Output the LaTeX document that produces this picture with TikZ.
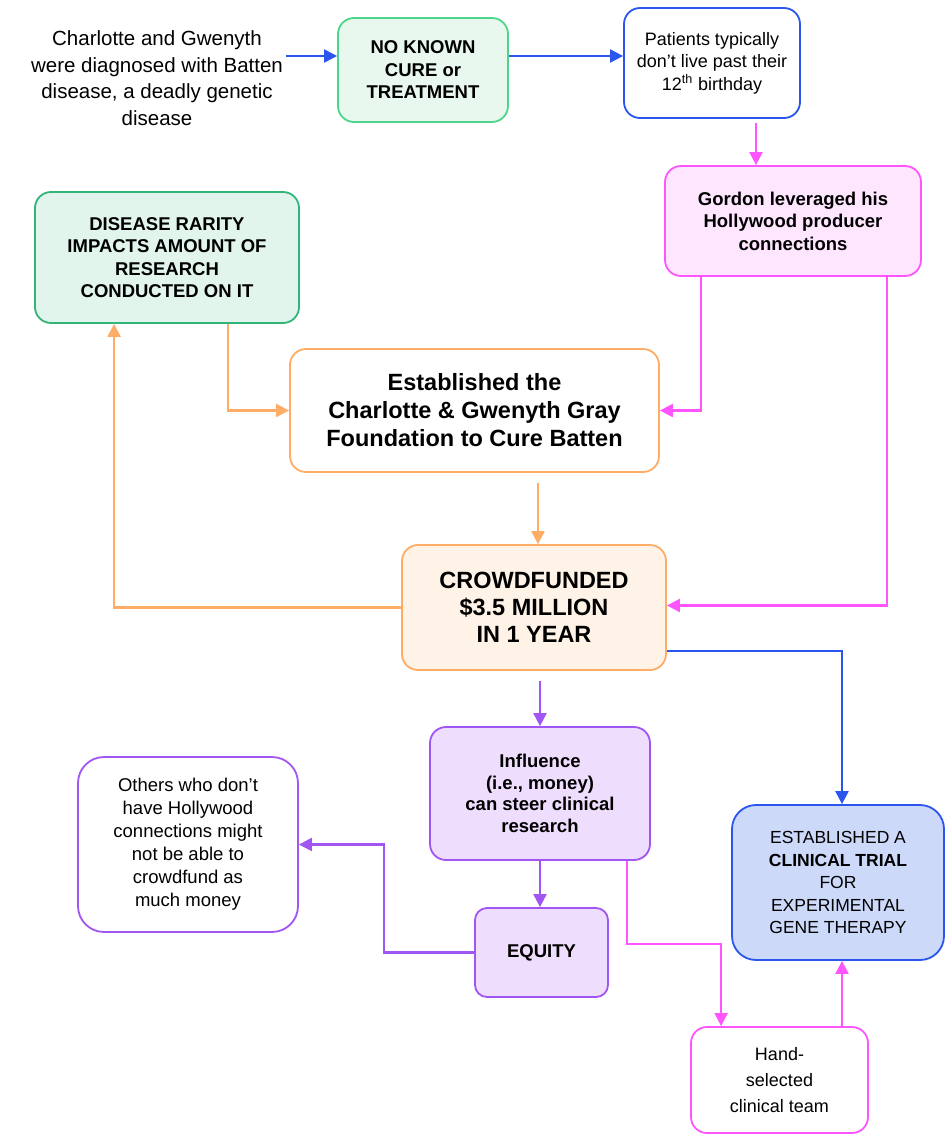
\documentclass[tikz,border=0pt]{standalone}
\usepackage{fontspec}
\setmainfont{Liberation Sans}
\usetikzlibrary{arrows.meta}

\definecolor{lineblue}{HTML}{2A55EE}
\definecolor{linepink}{HTML}{FF55FF}
\definecolor{lineorange}{HTML}{FFAD66}
\definecolor{linepurple}{HTML}{A155F2}
\definecolor{greenedge}{HTML}{4CD68A}
\definecolor{greenfill}{HTML}{E8F8EE}
\definecolor{tealedge}{HTML}{33B47A}
\definecolor{tealfill}{HTML}{E2F5EC}
\definecolor{pinkfill}{HTML}{FFE6FF}
\definecolor{peachfill}{HTML}{FFF3E8}
\definecolor{lilacfill}{HTML}{EEDDFC}
\definecolor{bluefill}{HTML}{CCD9F8}

\begin{document}
\begin{tikzpicture}[x=1pt,y=-1pt,
  box/.style={draw, rounded corners=16pt, line width=1.8pt, align=center, inner sep=2pt},
  link/.style={line width=2.2pt, -{Triangle[length=13pt,width=13pt]}},
  txtsm/.style={font=\fontsize{18}{22.5}\selectfont},
  txtbf/.style={font=\fontsize{18.5}{22.5}\selectfont\bfseries},
  txtbig/.style={font=\fontsize{23.5}{28}\selectfont\bfseries}]
\useasboundingbox (0,0) rectangle (946,1135);

% Top row
\node[align=center, font=\fontsize{20.5}{26.5}\selectfont] (intro) at (157,78)
  {Charlotte and Gwenyth\\were diagnosed with Batten\\disease, a deadly genetic\\disease};
\node[box, txtbf, draw=greenedge, fill=greenfill, minimum width=170pt, minimum height=104pt] (nocure) at (423,70)
  {NO KNOWN\\CURE or\\TREATMENT};
\node[box, txtsm, draw=lineblue, fill=white, minimum width=176pt, minimum height=110pt] (patients) at (712,63)
  {Patients typically\\don't live past their\\12\textsuperscript{th} birthday};

% Middle part
\node[box, txtbf, draw=linepink, fill=pinkfill, minimum width=256pt, minimum height=110pt] (gordon) at (793,221)
  {Gordon leveraged his\\Hollywood producer\\connections};
\node[box, txtbf, draw=tealedge, fill=tealfill, minimum width=264pt, minimum height=131pt] (rarity) at (167,257.5)
  {DISEASE RARITY\\IMPACTS AMOUNT OF\\RESEARCH\\CONDUCTED ON IT};
\node[box, txtbig, draw=lineorange, fill=white, minimum width=369pt, minimum height=123pt] (found) at (474.5,410.5)
  {Established the\\Charlotte \& Gwenyth Gray\\Foundation to Cure Batten};
\node[box, txtbig, font=\fontsize{23.5}{27}\selectfont\bfseries, draw=lineorange, fill=peachfill, minimum width=264pt, minimum height=125pt] (crowd) at (534,607.5)
  {CROWDFUNDED\\\$3.5 MILLION\\IN 1 YEAR};

% Bottom part
\node[box, txtbf, font=\fontsize{18.5}{21.5}\selectfont\bfseries, draw=linepurple, fill=lilacfill, minimum width=220pt, minimum height=133pt] (influence) at (540,793.5)
  {Influence\\(i.e., money)\\can steer clinical\\research};
\node[box, txtsm, font=\fontsize{18.5}{23}\selectfont, rounded corners=26pt, draw=linepurple, fill=white, minimum width=220pt, minimum height=175pt] (others) at (188,844.5)
  {Others who don't\\have Hollywood\\connections might\\not be able to\\crowdfund as\\much money};
\node[box, txtbf, rounded corners=12pt, draw=linepurple, fill=lilacfill, minimum width=133pt, minimum height=89pt] (equity) at (541.5,952.5)
  {EQUITY};
\node[box, txtsm, font=\fontsize{17.5}{22.5}\selectfont, rounded corners=24pt, draw=lineblue, fill=bluefill, minimum width=212pt, minimum height=155pt] (trial) at (838,882.5)
  {ESTABLISHED A\\\textbf{CLINICAL TRIAL}\\FOR\\EXPERIMENTAL\\GENE THERAPY};
\node[box, txtsm, font=\fontsize{18}{26}\selectfont, draw=linepink, fill=white, minimum width=177pt, minimum height=106pt] (hand) at (779.5,1080)
  {Hand-\\selected\\clinical team};

% Connectors
\draw[link, lineblue] ([yshift=14pt]nocure.west -| intro.east) -- ([yshift=14pt]nocure.west);
\draw[link, lineblue] ([yshift=14pt]nocure.east) -- ([yshift=14pt]nocure.east -| patients.west);
\draw[link, linepink, shorten <=4pt] ([xshift=44pt]patients.south) -- ([xshift=44pt]patients.south |- gordon.north);
\draw[link, linepink] ([xshift=37pt]gordon.south west) |- (found.east);
\draw[link, linepink] ([xshift=-35pt]gordon.south east) |- ([yshift=2pt]crowd.east);
\draw[link, lineorange] ([xshift=-72pt]rarity.south east) |- (found.west);
\draw[link, lineorange, shorten <=10pt] ([xshift=4pt]crowd.north |- found.south) -- ([xshift=4pt]crowd.north);
\draw[link, lineorange] (crowd.west) -| ([xshift=80pt]rarity.south west);
\draw[link, lineblue] ([yshift=20pt]crowd.south east) -| ([xshift=4pt]trial.north);
\draw[link, linepurple, shorten <=10pt] (crowd.south -| influence.north) -- (influence.north);
\draw[link, linepurple] (influence.south) -- (influence.south |- equity.north);
\draw[link, linepurple] (equity.west) -- ++(-90,0) |- (others.east);
\draw[link, linepink] ([xshift=-24pt]influence.south east) -- ++(0,83) -| ([xshift=31pt]hand.north west);
\draw[link, linepink] ([xshift=4pt]hand.north -| trial.south) -- ([xshift=4pt]trial.south);
\end{tikzpicture}
\end{document}
